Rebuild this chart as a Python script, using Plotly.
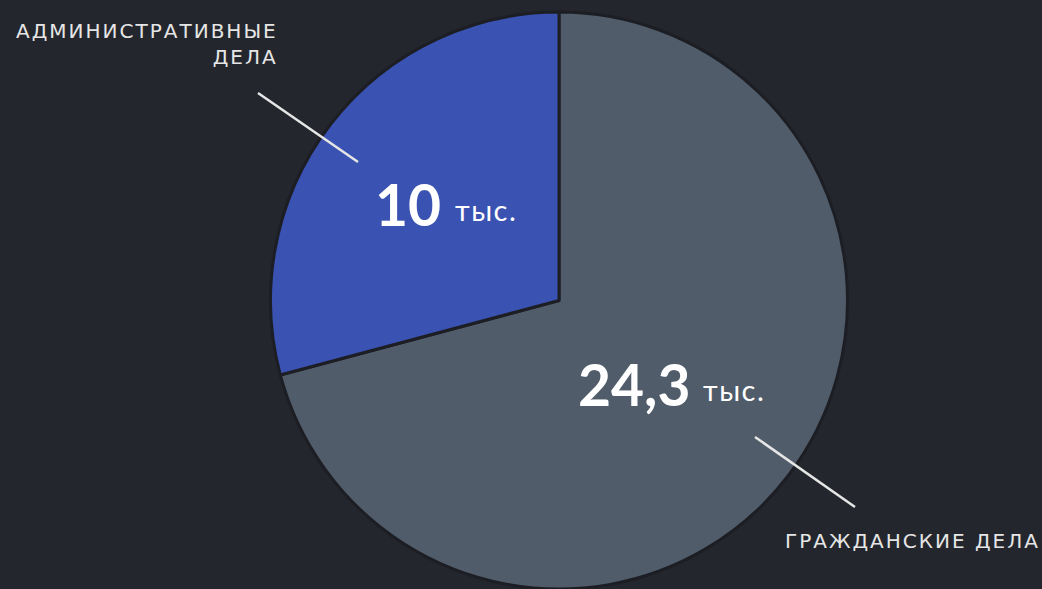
import plotly.graph_objects as go

categories = ["Гражданские дела", "Административные дела"]
values = [24.3, 10]
value_labels = ["24,3", "10"]
unit = "тыс."
colors = ["#505c6a", "#3a52b2"]

W, H = 1042, 589
BG = "#24262e"

def px(x):
    return x / W

def py(y):
    return 1 - y / H

fig = go.Figure()
fig.add_trace(go.Pie(
    labels=categories,
    values=values,
    sort=False,
    direction="clockwise",
    rotation=0,
    marker=dict(colors=colors, line=dict(color="#1c1e24", width=3)),
    textinfo="none",
    hoverinfo="label+value",
    showlegend=False,
    domain=dict(x=[px(270.5), px(847.5)], y=[0, py(12)]),
))

num_font = dict(family="Lato", size=57, color="white")
unit_font = dict(family="Lato", size=29, color="white")
lab_font = dict(family="DejaVu Sans", size=20, color="#e6e6e6")

def spaced(t, ls):
    return '<span style="letter-spacing:%spx">%s</span>' % (ls, t)

ann = []
ann.append(dict(x=px(443), y=py(204), xref="paper", yref="paper", xanchor="right", yanchor="middle",
                text="<b>" + value_labels[1] + "</b>", font=num_font, showarrow=False))
ann.append(dict(x=px(453), y=py(209), xref="paper", yref="paper", xanchor="left", yanchor="middle",
                text=spaced(unit, 1.5), font=unit_font, showarrow=False))
ann.append(dict(x=px(693), y=py(384), xref="paper", yref="paper", xanchor="right", yanchor="middle",
                text="<b>" + value_labels[0] + "</b>", font=num_font, showarrow=False))
ann.append(dict(x=px(701), y=py(389), xref="paper", yref="paper", xanchor="left", yanchor="middle",
                text=spaced(unit, 1.5), font=unit_font, showarrow=False))
ann.append(dict(x=px(280), y=py(44), xref="paper", yref="paper", xanchor="right", yanchor="middle",
                text=spaced("АДМИНИСТРАТИВНЫЕ", 2) + "<br>" + spaced("ДЕЛА", 2), align="right",
                font=lab_font, showarrow=False))
ann.append(dict(x=px(1042), y=py(541), xref="paper", yref="paper", xanchor="right", yanchor="middle",
                text=spaced("ГРАЖДАНСКИЕ ДЕЛА", 2), align="right", font=lab_font, showarrow=False))

shapes = [
    dict(type="line", xref="paper", yref="paper", x0=px(258), y0=py(93), x1=px(358), y1=py(162),
         line=dict(color="#e6e6e6", width=2.5)),
    dict(type="line", xref="paper", yref="paper", x0=px(755), y0=py(437), x1=px(855), y1=py(507),
         line=dict(color="#e6e6e6", width=2.5)),
]

fig.update_layout(
    width=W, height=H,
    margin=dict(l=0, r=0, t=0, b=0),
    paper_bgcolor=BG, plot_bgcolor=BG,
    annotations=ann, shapes=shapes,
)

fig.write_html("out.html", config={"displayModeBar": False},
               post_script="document.body.style.margin='0';document.body.style.background='" + BG + "';")
